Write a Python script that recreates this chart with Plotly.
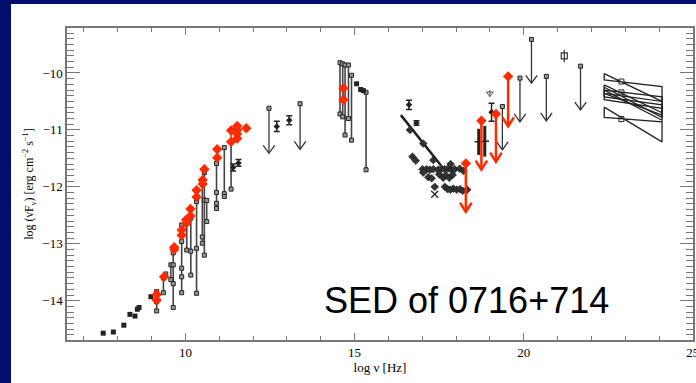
import plotly.graph_objects as go

# ---------------- data ----------------
# radio single points (filled squares)
radio_x = [7.57, 7.87, 8.18, 8.36, 8.51, 8.58, 8.63, 8.98, 15.06, 15.18, 15.26]
radio_y = [-14.57, -14.55, -14.43, -14.24, -14.27, -14.15, -14.12, -13.93, -10.19, -10.29, -10.31]

# archival flux ranges (frequency, list of flux values)
range_x = [9.15, 9.35, 9.42, 9.57, 9.64, 9.89, 10.04, 10.16, 10.33, 10.50, 10.56, 10.63,
           10.92, 11.15, 11.35, 14.57, 14.65, 14.72, 14.82, 14.91, 15.34]
range_y = [
    [-13.84, -14.02, -14.18],
    [-13.60, -13.86],
    [-13.53],
    [-13.37, -13.63],
    [-13.16, -13.37, -13.70, -14.12],
    [-12.67, -12.96, -13.43, -13.58, -13.86],
    [-12.64, -13.11],
    [-12.55, -13.13, -13.55],
    [-12.18, -12.26, -13.08, -13.87],
    [-11.95, -12.88, -12.99],
    [-11.75, -12.23, -13.20],
    [-12.24, -12.61],
    [-11.59, -12.10, -12.29, -12.38],
    [-11.31, -12.12, -12.17],
    [-11.21, -12.04],
    [-9.82, -10.72],
    [-9.84, -10.77],
    [-9.86, -11.09],
    [-9.86, -10.80],
    [-10.04, -11.18],
    [-10.34, -11.70],
]

# simultaneous data (red)
red_x = [9.15, 9.37, 9.67, 9.89, 10.02, 10.15, 10.33, 10.51, 10.56, 10.94, 11.35, 11.53, 11.80, 14.67]
red_y = [[-13.89, -13.99], [-13.58], [-13.06, -13.10], [-12.76, -12.85], [-12.58, -12.64],
         [-12.39, -12.51], [-12.06, -12.18], [-11.88, -11.95], [-11.69], [-11.34, -11.49],
         [-11.01, -11.21], [-10.93, -11.00, -11.07, -11.15], [-10.97], [-10.27, -10.47]]

# points with error bars
cross_x = [11.41, 11.57, 12.70, 13.07, 16.61, 16.83, 19.05]
cross_y = [-11.66, -11.58, -10.94, -10.83, -10.56, -10.88, -10.69]
cross_err = [0.06, 0.06, 0.09, 0.08, 0.08, 0.04, 0.16]

hx_x = [18.67, 18.85]
hx_y = [-11.21, -11.20]
hx_err = [0.23, 0.27]

# black upper limits
ul_x = [12.47, 13.39, 19.37, 19.89, 20.23, 20.67, 21.68]
ul_top = [-10.62, -10.54, -10.59, -10.09, -9.41, -10.06, -9.88]
ul_tip = [-11.41, -11.34, -11.35, -10.86, -10.18, -10.84, -10.65]

# red upper limits
rul_x = [18.29, 18.75, 19.18, 19.54]
rul_top = [-11.59, -10.84, -10.72, -10.06]
rul_tip = [-12.44, -11.70, -11.56, -10.94]

# gamma point with error
gp_x = [21.20]
gp_y = [-9.70]
gp_err = [0.11]

# X-ray spectrum line
xr_line_x = [16.37, 17.55]
xr_line_y = [-10.74, -11.62]

# X-ray data points
xr_x = [16.64, 17.03, 17.33, 16.71, 16.81, 17.01, 17.13, 17.23, 17.03, 17.18, 17.28, 17.33,
        17.47, 17.57, 17.66, 17.76, 17.86, 17.96, 18.11, 17.50, 17.62, 17.70, 17.80, 17.90,
        17.37, 17.67, 17.75, 17.83, 17.92, 18.02, 18.12, 18.20, 17.84, 18.22, 18.33]
xr_y = [-11.00, -11.24, -11.53, -11.47, -11.54, -11.69, -11.69, -11.70, -11.75, -11.83, -11.85, -11.69,
        -11.70, -11.68, -11.69, -11.68, -11.70, -11.69, -11.68, -11.78, -11.84, -11.80, -11.84, -11.79,
        -12.00, -12.00, -12.04, -12.05, -12.03, -12.05, -12.04, -12.07, -11.60, -11.72, -12.05]
xr_cross_x = [17.37]
xr_cross_y = [-12.13]

psi_x = [19.00]
psi_y = [-10.36]

# gamma-ray bowties
bt_left = 22.38
bt_right = 24.09
bt_lt = [-10.01, -10.21, -10.25, -10.30, -10.36, -10.60]
bt_lb = [-10.12, -10.30, -10.36, -10.42, -10.47, -10.78]
bt_rt = [-10.24, -10.42, -10.50, -10.56, -10.62, -10.86]
bt_rb = [-10.50, -10.70, -10.78, -10.83, -10.74, -11.21]
piv_x = [22.89, 22.89, 22.89]
piv_y = [-10.15, -10.34, -10.81]

RED = "#FF2A00"
DARK = "#333333"
NAVY = "#000F6E"

fig = go.Figure()

# archival ranges: lines
lx, ly, mx, my = [], [], [], []
for x, ys in zip(range_x, range_y):
    lx += [x, x, None]
    ly += [max(ys), min(ys), None]
    mx += [x] * len(ys)
    my += ys
fig.add_trace(go.Scatter(x=lx, y=ly, mode="lines", line=dict(color="#444444", width=1.6),
                         hoverinfo="skip", showlegend=False))
fig.add_trace(go.Scatter(x=mx, y=my, mode="markers",
                         marker=dict(symbol="square", size=4, color="#999999",
                                     line=dict(color="#222222", width=1)),
                         showlegend=False))

# radio filled squares
fig.add_trace(go.Scatter(x=radio_x, y=radio_y, mode="markers",
                         marker=dict(symbol="square", size=5, color="#222222"), showlegend=False))

# black upper limits
def arrow_xy(xs, tops, tips, dx, dy):
    ax, ay = [], []
    for x, t, b in zip(xs, tops, tips):
        ax += [x, x, None, x - dx, x, x + dx, None]
        ay += [t, b, None, b + dy, b, b + dy, None]
    return ax, ay

ax, ay = arrow_xy(ul_x, ul_top, ul_tip, 0.17, 0.14)
fig.add_trace(go.Scatter(x=ax, y=ay, mode="lines", line=dict(color=DARK, width=1.3),
                         hoverinfo="skip", showlegend=False))
fig.add_trace(go.Scatter(x=ul_x, y=ul_top, mode="markers",
                         marker=dict(symbol="square", size=4, color="#999999",
                                     line=dict(color="#222222", width=1)), showlegend=False))

# gamma point with error
fig.add_trace(go.Scatter(x=gp_x, y=gp_y, mode="markers",
                         error_y=dict(type="data", array=gp_err, color=DARK, thickness=1.2, width=0),
                         marker=dict(symbol="square-open", size=6, color=DARK, line=dict(width=1.2)),
                         showlegend=False))

# bowties
bx, by = [], []
for lt, lb, rt, rb in zip(bt_lt, bt_lb, bt_rt, bt_rb):
    bx += [bt_left, bt_right, bt_right, bt_left, bt_left, None]
    by += [lt, rb, rt, lb, lt, None]
fig.add_trace(go.Scatter(x=bx, y=by, mode="lines", line=dict(color="#222222", width=1.3),
                         hoverinfo="skip", showlegend=False))
fig.add_trace(go.Scatter(x=piv_x, y=piv_y, mode="markers",
                         marker=dict(symbol="square-open", size=5, color="#222222", line=dict(width=1)),
                         showlegend=False))

# X-ray line and points
fig.add_trace(go.Scatter(x=xr_line_x, y=xr_line_y, mode="lines", line=dict(color="#222222", width=2.5),
                         hoverinfo="skip", showlegend=False))
fig.add_trace(go.Scatter(x=xr_x, y=xr_y, mode="markers",
                         marker=dict(symbol="diamond", size=6, color="#333333",
                                     line=dict(color="#111111", width=0.5)),
                         showlegend=False))
fig.add_trace(go.Scatter(x=xr_cross_x, y=xr_cross_y, mode="markers",
                         marker=dict(symbol="x-thin-open", size=7, color="#222222", line=dict(width=1.3)),
                         showlegend=False))
fig.add_trace(go.Scatter(x=psi_x, y=psi_y, mode="markers",
                         error_y=dict(type="data", array=[0.06], color="#555555", thickness=1, width=0),
                         marker=dict(symbol="triangle-down-open", size=6, color="#555555", line=dict(width=1)),
                         showlegend=False))

# crosses
fig.add_trace(go.Scatter(x=cross_x, y=cross_y, mode="markers",
                         error_y=dict(type="data", array=cross_err, color="#222222", thickness=1.5, width=3),
                         marker=dict(symbol="diamond", size=5, color="#222222"), showlegend=False))
fig.add_trace(go.Scatter(x=hx_x, y=hx_y, mode="markers",
                         error_y=dict(type="data", array=hx_err, color="#222222", thickness=3, width=0),
                         marker=dict(symbol="cross-thin-open", size=6, color="#222222", line=dict(width=1.5)),
                         showlegend=False))

# red data
rlx, rly, rmx, rmy = [], [], [], []
for x, ys in zip(red_x, red_y):
    if len(ys) > 1:
        rlx += [x, x, None]
        rly += [max(ys), min(ys), None]
    rmx += [x] * len(ys)
    rmy += ys
fig.add_trace(go.Scatter(x=rlx, y=rly, mode="lines", line=dict(color=RED, width=1.5),
                         hoverinfo="skip", showlegend=False))
fig.add_trace(go.Scatter(x=rmx, y=rmy, mode="markers",
                         marker=dict(symbol="diamond", size=8, color=RED), showlegend=False))

ax, ay = arrow_xy(rul_x, rul_top, rul_tip, 0.17, 0.16)
fig.add_trace(go.Scatter(x=ax, y=ay, mode="lines", line=dict(color=RED, width=2.5),
                         hoverinfo="skip", showlegend=False))
fig.add_trace(go.Scatter(x=rul_x, y=rul_top, mode="markers",
                         marker=dict(symbol="diamond", size=8, color=RED), showlegend=False))

# ---------------- layout ----------------
W, H = 696, 383
ml, mr, mt, mb = 67, 3, 28, 43
pw, ph = W - ml - mr, H - mt - mb

def px2paper_x(p):
    return (p - ml) / pw

def px2paper_y(p):
    return (H - mb - p) / ph

# navy frame on the left and top of the slide
fig.add_shape(type="rect", xref="paper", yref="paper",
              x0=px2paper_x(-5), x1=px2paper_x(11), y0=px2paper_y(H + 5), y1=px2paper_y(-5),
              fillcolor=NAVY, line=dict(width=0), layer="below")
fig.add_shape(type="rect", xref="paper", yref="paper",
              x0=px2paper_x(-5), x1=px2paper_x(W + 5), y0=px2paper_y(4), y1=px2paper_y(-5),
              fillcolor=NAVY, line=dict(width=0), layer="below")

fig.add_annotation(x=18.3, y=-14.0, xref="x", yref="y", text="SED of 0716+714", showarrow=False,
                   font=dict(family="Liberation Sans, Arial", size=36, color="black"))

axis_common = dict(showgrid=False, zeroline=False, showline=True, linecolor="#777777", linewidth=1.5,
                   mirror="ticks", ticks="inside", tickcolor="#777777", tickwidth=1.3,
                   ticklabeloverflow="allow",
                   tickfont=dict(family="Liberation Serif, DejaVu Serif", size=13, color="black"))

fig.update_layout(
    width=W, height=H,
    margin=dict(l=ml, r=mr, t=mt, b=mb, autoexpand=False),
    paper_bgcolor="white",
    plot_bgcolor="white",
    xaxis=dict(range=[6.5, 25.005], tickmode="linear", tick0=0, dtick=5, ticklen=7,
               minor=dict(dtick=1, ticklen=4, ticks="inside", tickcolor="#777777"),
               title=dict(text="log \u03bd [Hz]", standoff=4,
                          font=dict(family="Liberation Serif, DejaVu Serif", size=13, color="black")),
               **axis_common),
    yaxis=dict(range=[-14.69, -9.21], tickmode="linear", tick0=0, dtick=1, ticklen=13,
               minor=dict(dtick=0.1, ticklen=7, ticks="inside", tickcolor="#777777"),
               title=dict(text="log (\u03bdF<sub>\u03bd</sub>) [erg cm<sup>\u22122</sup> s<sup>\u22121</sup>]",
                          standoff=6,
                          font=dict(family="Liberation Serif, DejaVu Serif", size=12, color="black")),
               **axis_common),
)

fig.write_html("out.html")
